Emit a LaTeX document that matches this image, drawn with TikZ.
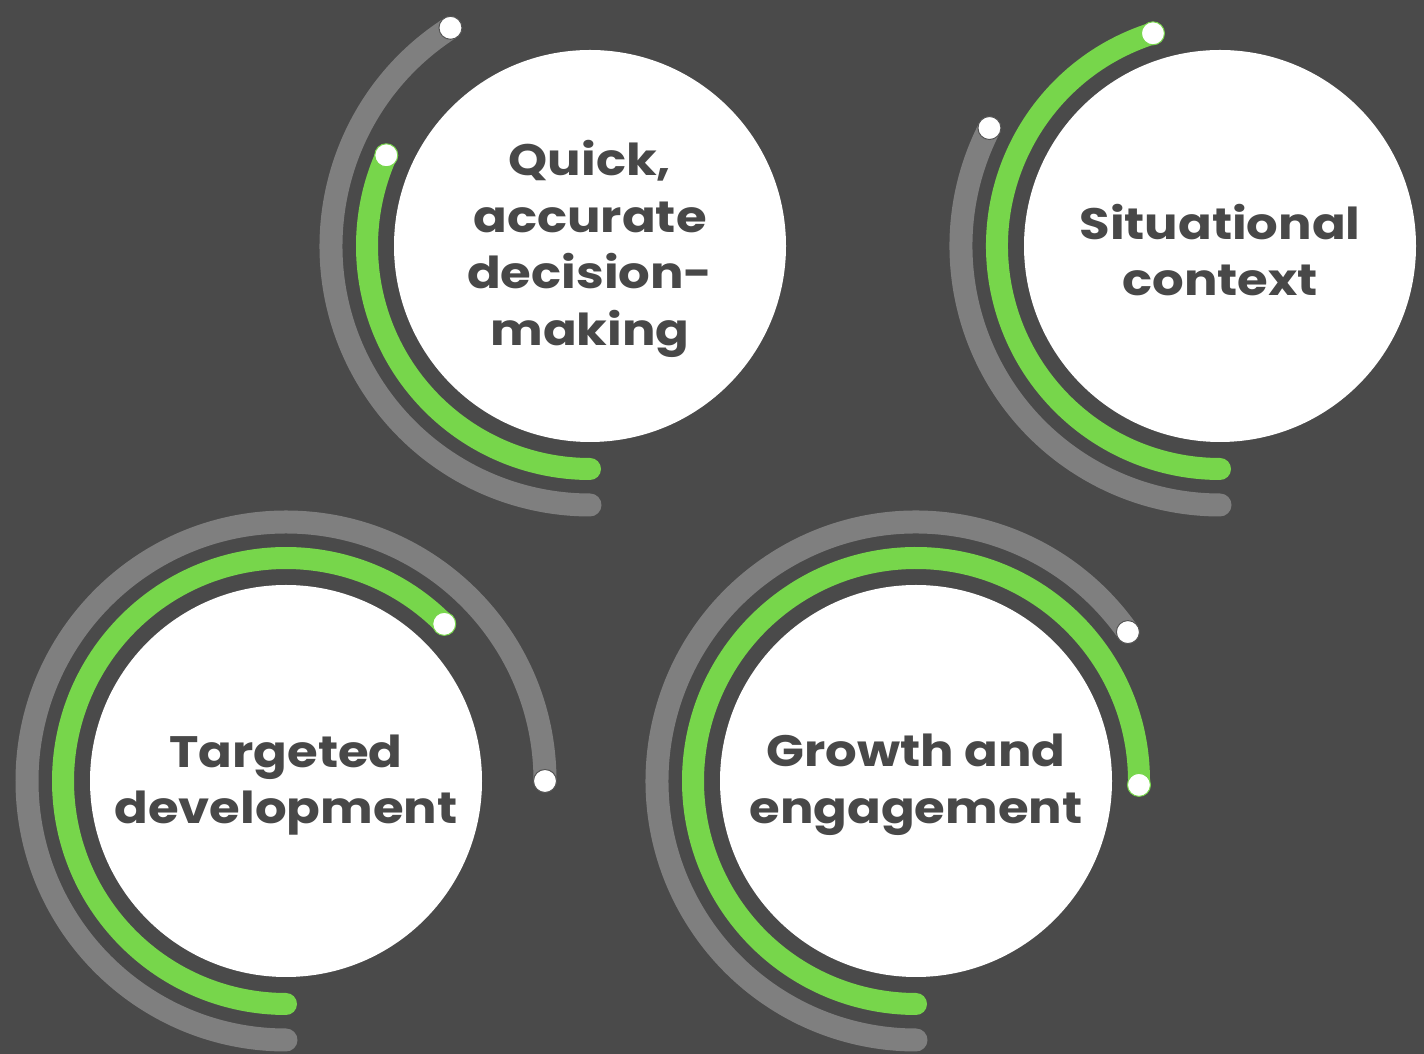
\documentclass[tikz,border=0pt]{standalone}
\usepackage{fontspec}
\setmainfont{Poppins}[FakeStretch=1.13]
\definecolor{bg}{HTML}{4A4A4A}
\definecolor{arcgray}{HTML}{7F7F7F}
\definecolor{arcgreen}{HTML}{77D64B}
\definecolor{txt}{HTML}{484848}
\tikzset{
  bubble/.style={circle, fill=white, minimum size=392pt, inner sep=0pt},
  lbl/.style={inner sep=0pt, text=txt, align=center, font=\fontsize{44}{56.5}\selectfont\bfseries},
  greenarc/.style={draw=arcgreen, line width=22pt, line cap=round},
  grayarc/.style={draw=arcgray, line width=23pt, line cap=round},
  greendot/.style={fill=white, draw=arcgreen, line width=1pt},
  graydot/.style={fill=white, draw=bg!80!arcgray, line width=1pt}
}
\begin{document}
\begin{tikzpicture}[x=1pt,y=1pt]
\fill[bg] (0,0) rectangle (1424,1054);
\useasboundingbox (0,0) rectangle (1424,1054);

% centres
\coordinate (p1) at (590,808);
\coordinate (p2) at (1220,808);
\coordinate (p3) at (286,273);
\coordinate (p4) at (916,273);

% arcs circle 1
\draw[grayarc] ([shift={(122.6:259pt)}]p1) arc[start angle=122.6, end angle=270, radius=259pt];
\draw[greenarc] ([shift={(156:223pt)}]p1) arc[start angle=156, end angle=270, radius=223pt];
% arcs circle 2
\draw[grayarc] ([shift={(152.9:259pt)}]p2) arc[start angle=152.9, end angle=270, radius=259pt];
\draw[greenarc] ([shift={(107.5:223pt)}]p2) arc[start angle=107.5, end angle=270, radius=223pt];
% arcs circle 3
\draw[grayarc] ([shift={(0:259pt)}]p3) arc[start angle=0, end angle=270, radius=259pt];
\draw[greenarc] ([shift={(44.8:223pt)}]p3) arc[start angle=44.8, end angle=270, radius=223pt];
% arcs circle 4
\draw[grayarc] ([shift={(35.1:259pt)}]p4) arc[start angle=35.1, end angle=270, radius=259pt];
\draw[greenarc] ([shift={(-1:223pt)}]p4) arc[start angle=-1, end angle=270, radius=223pt];

% dots
\path[graydot] ([shift={(122.6:259pt)}]p1) circle[radius=11.5pt];
\path[greendot] ([shift={(156:223pt)}]p1) circle[radius=11.5pt];
\path[graydot] ([shift={(152.9:259pt)}]p2) circle[radius=11.5pt];
\path[greendot] ([shift={(107.5:223pt)}]p2) circle[radius=11.5pt];
\path[graydot] ([shift={(0:259pt)}]p3) circle[radius=11.5pt];
\path[greendot] ([shift={(44.8:223pt)}]p3) circle[radius=11.5pt];
\path[graydot] ([shift={(35.1:259pt)}]p4) circle[radius=11.5pt];
\path[greendot] ([shift={(-1:223pt)}]p4) circle[radius=11.5pt];

% circles
\node[bubble] (c1) at (p1) {};
\node[bubble] (c2) at (p2) {};
\node[bubble] (c3) at (p3) {};
\node[bubble] (c4) at (p4) {};

% texts
\node[lbl] (t1) at ([yshift=-3pt]c1.center) {Quick,\\accurate\\decision-\\making};
\node[lbl] (t2) at ([yshift=-4pt]c2.center) {Situational\\context};
\node[lbl] (t3) at ([yshift=-4pt]c3.center) {Targeted\\development};
\node[lbl] (t4) at ([yshift=-4pt]c4.center) {Growth and\\engagement};
\end{tikzpicture}
\end{document}
